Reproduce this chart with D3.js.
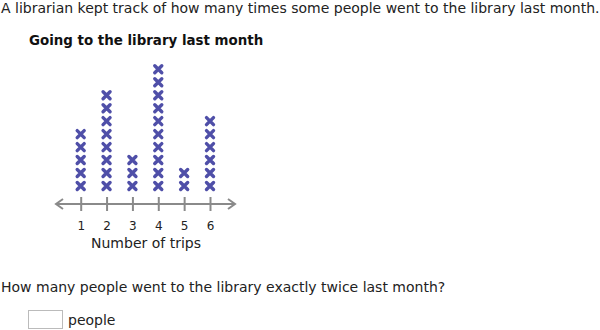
<!DOCTYPE html>
<html><head><meta charset="utf-8">
<script src="https://cdn.jsdelivr.net/npm/d3@7"></script>
<style>body{margin:0;background:#fff}svg{display:block}</style>
</head><body>
<script>
const categories = [1, 2, 3, 4, 5, 6];
const counts = [5, 8, 3, 10, 2, 6];
const tickLabels = ["1", "2", "3", "4", "5", "6"];

const W = 600, H = 330;
const svg = d3.select("body").append("svg").attr("width", W).attr("height", H);
const font = "'DejaVu Sans', Verdana, sans-serif";

svg.append("text").attr("x", 1).attr("y", 13).attr("font-family", font).attr("font-size", 14)
  .attr("fill", "#222").text("A librarian kept track of how many times some people went to the library last month.");
svg.append("text").attr("x", 29).attr("y", 45).attr("font-family", font).attr("font-size", 13.4)
  .attr("font-weight", "bold").attr("fill", "#111").text("Going to the library last month");

const x = d3.scaleLinear().domain([1, 6]).range([80.7, 210]);
const axisY = 204;
const y = d3.scaleLinear().domain([1, 10]).range([186, 69.3]);

const g = svg.append("g");
const c = "#8a8a8a";
g.append("line").attr("x1", 56).attr("x2", 235).attr("y1", axisY).attr("y2", axisY).attr("stroke", c).attr("stroke-width", 2);
g.append("path").attr("d", `M63,${axisY-5} L56,${axisY} L63,${axisY+5}`).attr("fill", "none").attr("stroke", c).attr("stroke-width", 2);
g.append("path").attr("d", `M228,${axisY-5} L235,${axisY} L228,${axisY+5}`).attr("fill", "none").attr("stroke", c).attr("stroke-width", 2);

const axis = d3.axisBottom(x).tickValues(categories).tickFormat((d, i) => tickLabels[i]).tickSize(14).tickPadding(10);
const ag = g.append("g").attr("transform", `translate(0,${axisY - 7})`).call(axis);
ag.select(".domain").remove();
ag.selectAll(".tick line").attr("stroke", c).attr("stroke-width", 2);
ag.selectAll(".tick text").attr("font-family", font).attr("font-size", 12).attr("fill", "#222").attr("y", 24);

svg.append("text").attr("x", 146).attr("y", 248).attr("text-anchor", "middle").attr("font-family", font)
  .attr("font-size", 14).attr("fill", "#222").text("Number of trips");

const pts = [];
categories.forEach((cat, i) => { for (let k = 1; k <= counts[i]; k++) pts.push({ cat, k }); });
const s = 3.5;
svg.append("g").selectAll("path").data(pts).join("path")
  .attr("d", d => { const cx = x(d.cat), cy = y(d.k); return `M${cx-s},${cy-s}L${cx+s},${cy+s}M${cx-s},${cy+s}L${cx+s},${cy-s}`; })
  .attr("stroke", "#4f4fa8").attr("stroke-width", 3.4).attr("stroke-linecap", "round");

svg.append("text").attr("x", 1).attr("y", 292).attr("font-family", font).attr("font-size", 14)
  .attr("fill", "#222").text("How many people went to the library exactly twice last month?");
svg.append("rect").attr("x", 28.5).attr("y", 310.5).attr("width", 34).attr("height", 18).attr("fill", "#fff").attr("stroke", "#bbb");
svg.append("text").attr("x", 68).attr("y", 325).attr("font-family", font).attr("font-size", 14)
  .attr("fill", "#222").text("people");
</script>
</body></html>
